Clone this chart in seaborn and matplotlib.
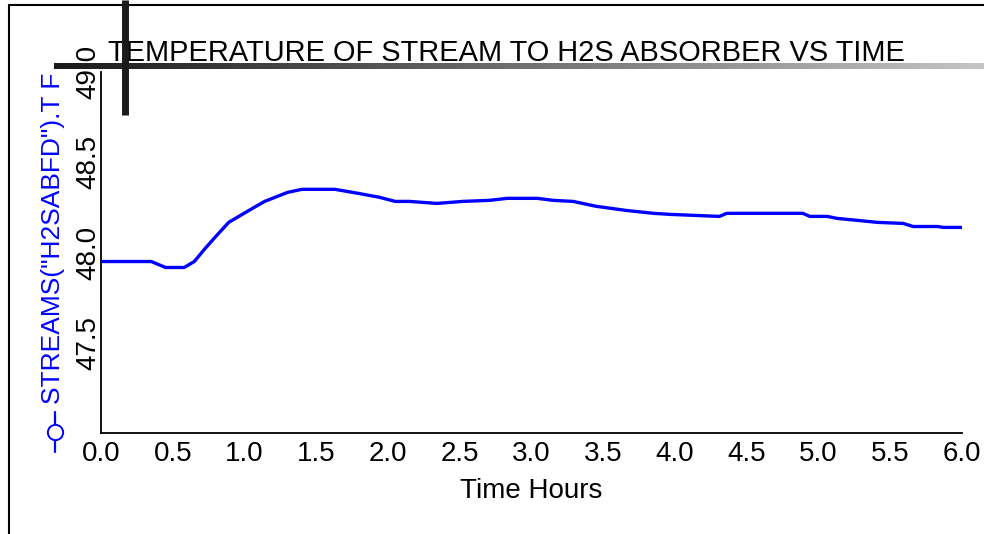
#!/usr/bin/env python3
# temperature of stream to H2S absorber vs time - redraw of an Aspen style plot

import numpy as np
import pandas as pd
import seaborn as sns
import matplotlib.pyplot as plt
from matplotlib.lines import Line2D
from matplotlib.ticker import FormatStrFormatter

# values
time_hours = [0.0, 0.35, 0.45, 0.58, 0.65, 0.72, 0.80, 0.89, 1.02, 1.14,
              1.30, 1.40, 1.63, 1.79, 1.94, 2.05, 2.15, 2.34, 2.52, 2.71,
              2.83, 3.04, 3.15, 3.29, 3.45, 3.66, 3.85, 3.97, 4.31, 4.36,
              4.89, 4.94, 5.06, 5.13, 5.27, 5.41, 5.59, 5.66, 5.83, 5.87, 6.0]
temp_f = [47.950, 47.950, 47.917, 47.917, 47.950, 48.017, 48.089, 48.167, 48.228, 48.283,
          48.333, 48.350, 48.350, 48.328, 48.306, 48.283, 48.283, 48.272, 48.283, 48.289,
          48.300, 48.300, 48.289, 48.283, 48.256, 48.233, 48.217, 48.211, 48.200, 48.217,
          48.217, 48.200, 48.200, 48.189, 48.178, 48.167, 48.161, 48.144, 48.144, 48.139, 48.139]
x_ticks = [0.0, 0.5, 1.0, 1.5, 2.0, 2.5, 3.0, 3.5, 4.0, 4.5, 5.0, 5.5, 6.0]
y_ticks = [47.5, 48.0, 48.5, 49.0]

title = "TEMPERATURE OF STREAM TO H2S ABSORBER VS TIME"
y_label = 'STREAMS("H2SABFD").T F'
x_label = "Time Hours"

W, H = 984, 534


def fx(px):
    return px / W


def fy(py):
    return 1 - py / H


def main():
    sns.set_style("white")
    plt.rcParams['font.family'] = ['Liberation Sans', 'DejaVu Sans']
    plt.rcParams['text.color'] = 'black'
    plt.rcParams['axes.labelcolor'] = 'black'

    df = pd.DataFrame({"time": time_hours, "temp": temp_f})

    fig = plt.figure(figsize=(W / 100, H / 100), dpi=100)
    ax = fig.add_axes([fx(101), fy(433), fx(962) - fx(101), fy(72) - fy(433)])

    sns.lineplot(data=df, x="time", y="temp", ax=ax, color="#0000ff", linewidth=2.4)

    ax.set_xlim(0, 6)
    ax.set_ylim(47, 49)
    ax.set_xticks(x_ticks)
    ax.set_yticks(y_ticks)
    ax.xaxis.set_major_formatter(FormatStrFormatter('%.1f'))
    ax.yaxis.set_major_formatter(FormatStrFormatter('%.1f'))
    sns.despine(ax=ax)
    for s in ["left", "bottom"]:
        ax.spines[s].set_color("black")
        ax.spines[s].set_linewidth(1.3)
    ax.tick_params(direction="in", length=8, width=1.1, colors="black", labelsize=20)
    ax.tick_params(axis="x", pad=6)
    ax.tick_params(axis="y", pad=0, labelrotation=90)
    for lab in ax.get_yticklabels():
        lab.set_va("center")
    ax.set_xlabel(x_label, fontsize=20, labelpad=8, color="black")
    ax.set_ylabel("")

    # y label with legend handle
    fig.text(fx(53), fy(404), y_label, rotation=90, ha="center", va="bottom",
             color="#0000ff", fontsize=19)
    fig.add_artist(Line2D([fx(55), fx(55)], [fy(412), fy(452)], transform=fig.transFigure,
                          color="#0000ff", linewidth=1.6))
    fig.add_artist(Line2D([fx(55)], [fy(432)], transform=fig.transFigure, marker="o",
                          markersize=11, markerfacecolor="white", markeredgecolor="#0000ff",
                          markeredgewidth=1.4, linestyle="none"))

    fig.text(fx(506), fy(61), title, ha="center", va="baseline", fontsize=20.9,
             color="black")

    # outer frame
    fig.add_artist(Line2D([fx(9), 1], [fy(5), fy(5)], transform=fig.transFigure,
                          color="black", linewidth=1.5))
    fig.add_artist(Line2D([fx(9), fx(9)], [fy(5), 0], transform=fig.transFigure,
                          color="black", linewidth=1.5))

    # gradient bar across the top
    gax = fig.add_axes([fx(54), fy(69.5), fx(984) - fx(54), fy(63) - fy(69.5)])
    gax.imshow(np.linspace(0.1, 0.77, 256)[None, :], cmap="gray", vmin=0, vmax=1,
               aspect="auto")
    gax.axis("off")
    gax.set_zorder(5)

    # dark vertical bar
    vbar = Line2D([fx(124.5), fx(124.5)], [1, fy(115)], transform=fig.transFigure,
                  color="#1a1a1a", linewidth=5.0, solid_capstyle="butt")
    vbar.set_zorder(10)
    fig.add_artist(vbar)

    fig.savefig("out.png", dpi=100)


if __name__ == "__main__":
    main()
